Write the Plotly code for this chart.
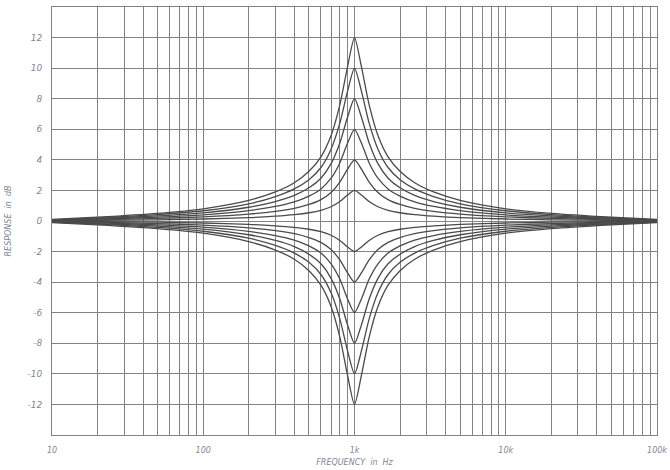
import plotly.graph_objects as go

# Frequency points (Hz), log-symmetric around the 1 kHz centre
freq_hz = [10, 20, 50, 100, 200, 300, 400, 500, 600, 700, 800, 900, 1000,
           1111, 1250, 1429, 1667, 2000, 2500, 3333, 5000, 10000, 20000, 50000, 100000]

# Boost responses (dB), left half up to 1 kHz; right half mirrors it
boost_12 = [0.1, 0.25, 0.5, 0.8, 1.35, 1.9, 2.5, 3.25, 4.2, 5.6, 7.6, 10.1, 12.0]
boost_10 = [0.08, 0.2, 0.42, 0.67, 1.12, 1.6, 2.1, 2.7, 3.5, 4.7, 6.4, 8.5, 10.0]
boost_8 = [0.07, 0.17, 0.33, 0.53, 0.9, 1.27, 1.67, 2.17, 2.8, 3.75, 5.1, 6.8, 8.0]
boost_6 = [0.05, 0.12, 0.25, 0.4, 0.68, 0.95, 1.25, 1.63, 2.1, 2.8, 3.8, 5.1, 6.0]
boost_4 = [0.03, 0.08, 0.17, 0.27, 0.45, 0.63, 0.83, 1.08, 1.4, 1.87, 2.55, 3.4, 4.0]
boost_2 = [0.02, 0.04, 0.08, 0.13, 0.22, 0.32, 0.42, 0.54, 0.7, 0.93, 1.27, 1.7, 2.0]

# Cut responses (dB)
cut_2 = [-0.02, -0.04, -0.08, -0.13, -0.22, -0.32, -0.42, -0.54, -0.7, -0.93, -1.27, -1.7, -2.0]
cut_4 = [-0.03, -0.08, -0.17, -0.27, -0.45, -0.63, -0.83, -1.08, -1.4, -1.87, -2.55, -3.4, -4.0]
cut_6 = [-0.05, -0.12, -0.25, -0.4, -0.68, -0.95, -1.25, -1.63, -2.1, -2.8, -3.8, -5.1, -6.0]
cut_8 = [-0.07, -0.17, -0.33, -0.53, -0.9, -1.27, -1.67, -2.17, -2.8, -3.75, -5.1, -6.8, -8.0]
cut_10 = [-0.08, -0.2, -0.42, -0.67, -1.12, -1.6, -2.1, -2.7, -3.5, -4.7, -6.4, -8.5, -10.0]
cut_12 = [-0.1, -0.25, -0.5, -0.8, -1.35, -1.9, -2.5, -3.25, -4.2, -5.6, -7.6, -10.1, -12.0]

y_ticks = [-12, -10, -8, -6, -4, -2, 0, 2, 4, 6, 8, 10, 12]
y_tick_text = ["-12", "-10", "-8", "-6", "-4", "-2", "0", "2", "4", "6", "8", "10", "12"]
decade_labels = {10: "10", 100: "100", 1000: "1k", 10000: "10k", 100000: "100k"}

curves = [boost_12, boost_10, boost_8, boost_6, boost_4, boost_2,
          cut_2, cut_4, cut_6, cut_8, cut_10, cut_12]

fig = go.Figure()
for half in curves:
    full = half + half[-2::-1]
    fig.add_trace(go.Scatter(
        x=freq_hz, y=full, mode="lines",
        line=dict(color="#4a4a4a", width=1.3, shape="spline", smoothing=0.7),
        showlegend=False, hoverinfo="skip",
    ))

# Log grid: every 1..9 multiple of each decade, labels only on decades
grid_vals = []
for d in [10, 100, 1000, 10000]:
    for m in range(1, 10):
        grid_vals.append(d * m)
grid_vals.append(100000)
grid_text = [decade_labels.get(v, "") for v in grid_vals]

label_color = "#7d8794"
fig.update_layout(
    width=670, height=470,
    margin=dict(l=52, r=13, t=7, b=35),
    paper_bgcolor="white", plot_bgcolor="white",
    font=dict(family="DejaVu Sans", size=9, color=label_color),
    xaxis=dict(
        type="log", range=[1, 5], automargin=False,
        tickvals=grid_vals, ticktext=grid_text,
        tickfont=dict(size=8, style="italic", color=label_color),
        showgrid=True, gridcolor="#838383", gridwidth=1,
        showline=True, linecolor="#838383", mirror=True,
        ticks="", zeroline=False, ticklabelstandoff=7,
        title=dict(text="FREQUENCY  in  Hz", standoff=5,
                   font=dict(size=8, style="italic", color=label_color)),
    ),
    yaxis=dict(
        range=[-14, 14], automargin=False,
        tickvals=y_ticks, ticktext=y_tick_text,
        tickfont=dict(size=9, style="italic", color=label_color),
        showgrid=True, gridcolor="#838383", gridwidth=1,
        showline=True, linecolor="#838383", mirror=True,
        ticks="", zeroline=False, ticklabelstandoff=7,
        title=dict(text="RESPONSE  in  dB", standoff=14,
                   font=dict(size=8, style="italic", color=label_color)),
    ),
)

fig.write_html("out.html")
